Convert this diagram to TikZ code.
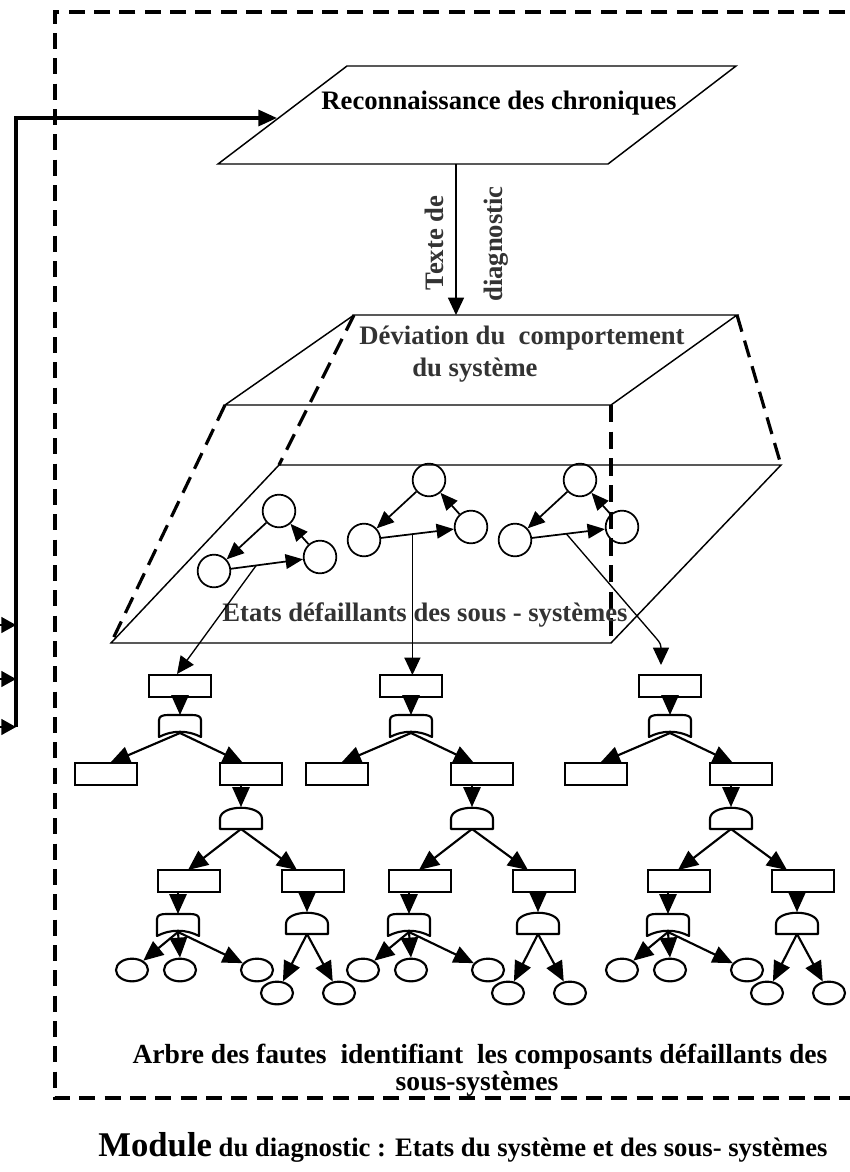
\documentclass[tikz,border=0pt]{standalone}
\usepackage{fontspec}
\setmainfont{Liberation Serif}
\usetikzlibrary{arrows.meta,calc,shapes.geometric}
\definecolor{tg}{HTML}{333333}

\newcommand\orgate[3]{%
  \node[gatebox] (#1) at (#2,#3) {};
  \coordinate (#1o) at (#2,#3+7);
  \draw[tline, line join=round] (#2-21,#3+11) -- (#2-21,#3-6)
    .. controls (#2-21,#3-10) and (#2-17,#3-11) .. (#2-12,#3-11)
    -- (#2+12,#3-11)
    .. controls (#2+17,#3-11) and (#2+21,#3-10) .. (#2+21,#3-6)
    -- (#2+21,#3+11)
    .. controls (#2+8,#3+4) and (#2-8,#3+4) .. (#2-21,#3+11) -- cycle;}

\newcommand\andgate[3]{%
  \node[gatebox] (#1) at (#2,#3) {};
  \draw[tline, line join=round] (#2-21,#3+11) -- (#2-21,#3+1)
    .. controls (#2-21,#3-14) and (#2+21,#3-14) .. (#2+21,#3+1)
    -- (#2+21,#3+11) -- cycle;}

\newcommand\faulttree[2]{%
  \node[box] (#1R0) at (#2+180,686) {};
  \orgate{#1G1}{#2+180}{726}
  \node[box] (#1L1) at (#2+106,774) {};
  \node[box] (#1R1) at (#2+251,774) {};
  \andgate{#1G2}{#2+241}{818}
  \node[box] (#1B1) at (#2+189,881) {};
  \node[box] (#1B2) at (#2+313,881) {};
  \orgate{#1G3}{#2+178}{925}
  \andgate{#1G4}{#2+307}{923}
  \node[leaf] (#1E1) at (#2+132,970) {};
  \node[leaf] (#1E2) at (#2+180,970) {};
  \node[leaf] (#1E3) at (#2+257,970) {};
  \node[leaf] (#1E4) at (#2+277,993) {};
  \node[leaf] (#1E5) at (#2+339,993) {};
  \draw[arr] (#1R0.south -| #1G1.north) -- (#1G1.north);
  \draw[arr] (#1G1o) -- ($(#1L1.north)+(4,0)$);
  \draw[arr] (#1G1o) -- ($(#1R1.north)+(-8,0)$);
  \draw[arr] (#1R1.south -| #1G2.north) -- (#1G2.north);
  \draw[arr] (#1G2.south) -- ($(#1B1.north)+(-1,0)$);
  \draw[arr] (#1G2.south) -- ($(#1B2.north)+(-16,0)$);
  \draw[arr] (#1B1.south -| #1G3.north) -- (#1G3.north);
  \draw[arr] (#1B2.south -| #1G4.north) -- (#1G4.north);
  \draw[arr] (#1G3o) -- (#1E1);
  \draw[arr] (#1G3o) -- (#1E2.north);
  \draw[arr] (#1G3o) -- (#1E3);
  \draw[arr] (#1G4.south) -- (#1E4);
  \draw[arr] (#1G4.south) -- (#1E5);}

\begin{document}
\begin{tikzpicture}[x=0.75pt,y=-0.75pt,
  frame/.style={line width=2.3pt, dash pattern=on 12pt off 7pt},
  pdash/.style={line width=2.4pt, dash pattern=on 13pt off 7pt},
  pline/.style={line width=1.1pt, line join=miter},
  tline/.style={line width=1.6pt},
  arr/.style={tline, -{Triangle[length=15pt,width=13pt]}},
  thinarr/.style={line width=1pt, -{Triangle[length=13pt,width=12pt]}},
  sarr/.style={line width=1.3pt, -{Triangle[length=13pt,width=11pt]}},
  bigarr/.style={line width=2.4pt, -{Triangle[length=14pt,width=12pt]}},
  inarr/.style={line width=1pt, -{Triangle[length=11pt,width=12pt]}},
  box/.style={draw, line width=1.6pt, minimum width=47pt, minimum height=16.5pt, inner sep=0pt, outer sep=0pt},
  gatebox/.style={minimum width=31.5pt, minimum height=16.5pt, inner sep=0pt, outer sep=0pt},
  leaf/.style={draw, ellipse, line width=1.6pt, minimum width=24pt, minimum height=17pt, inner sep=0pt},
  state/.style={draw, circle, line width=1.3pt, minimum size=24.5pt, inner sep=0pt},
  lbl/.style={font=\bfseries\fontsize{20}{22}\selectfont, text=tg, inner sep=0pt}]
\useasboundingbox (0,0) rectangle (850,1172);
\fill[white] (0,0) rectangle (850,1172);

% dashed frame
\coordinate (f1) at (55,1098);
\coordinate (f2) at (55,12);
\coordinate (f3) at (870,12);
\coordinate (f4) at (870,1098);
\draw[frame] (f3) -- (f2) -- (f1) -- (f4);

% left feedback line
\coordinate (ltop) at (16,118);
\coordinate (lbot) at (16,727);
\coordinate (pin) at (277,118);
\draw[bigarr] (lbot) -- (ltop) -- (pin);
\coordinate (i1) at (-12,625);
\coordinate (i2) at (-12,679);
\coordinate (i3) at (-12,727);
\draw[inarr] (i1) -- (i1 -| lbot);
\draw[inarr] (i2) -- (i2 -| lbot);
\draw[inarr] (i3) -- (i3 -| lbot);

% Reconnaissance parallelogram
\coordinate (pA) at (347,66);
\coordinate (pB) at (736,66);
\coordinate (pC) at (608,164);
\coordinate (pD) at (218,164);
\draw[pline] (pA) -- (pB) -- (pC) -- (pD) -- cycle;
\node[lbl, text=black, anchor=base] (reco) at (499,109) {Reconnaissance des chroniques};

% vertical arrow with labels
\coordinate (pout) at (456,164);
\coordinate (tin) at (456,315);
\draw[line width=1pt, -{Triangle[length=13pt,width=12pt]}] (pout) -- (tin);
\node[lbl, rotate=90] (tx1) at (434,243) {Texte de};
\node[lbl, rotate=90] (tx2) at (496,244) {diagnostic};

% prism
\coordinate (tA) at (354,315);
\coordinate (tB) at (737,315);
\coordinate (tC) at (611,405);
\coordinate (tD) at (225,405);
\coordinate (bA) at (279,465);
\coordinate (bB) at (781,465);
\coordinate (bC) at (611,643);
\coordinate (bD) at (111,643);
\draw[pline] (tA) -- (tB) -- (tC) -- (tD) -- cycle;
\draw[pline] (bA) -- (bB) -- (bC) -- (bD) -- cycle;
\draw[pdash] (tD) -- (bD);
\draw[pdash] (tA) -- (bA);
\draw[pdash] (tB) -- (bB);
\draw[pdash] (tC) -- (bC);

\node[lbl, anchor=base] (dev1) at (522,344) {Déviation du~ comportement};
\node[lbl, anchor=base] (dev2) at (475,376) {du système};
\node[lbl, anchor=base] (etat) at (425,621) {Etats défaillants des sous - systèmes};

% state graphs
\node[state] (g1A) at (279,511) {};
\node[state] (g1B) at (214,571) {};
\node[state] (g1C) at (320,557) {};
\node[state] (g2A) at (429,480) {};
\node[state] (g2B) at (364,540) {};
\node[state] (g2C) at (471,527) {};
\node[state] (g3A) at (580,480) {};
\node[state] (g3B) at (515,540) {};
\node[state] (g3C) at (622,527) {};
\draw[sarr] (g1A) -- (g1B);
\draw[sarr] (g1B) -- coordinate[pos=0.35] (g1m) (g1C);
\draw[sarr] (g1C) -- (g1A);
\draw[sarr] (g2A) -- (g2B);
\draw[sarr] (g2B) -- coordinate[pos=0.43] (g2m) (g2C);
\draw[sarr] (g2C) -- (g2A);
\draw[sarr] (g3A) -- (g3B);
\draw[sarr] (g3B) -- coordinate[pos=0.47] (g3m) (g3C);
\draw[sarr] (g3C) -- (g3A);

% fault trees
\faulttree{t1}{0}
\faulttree{t2}{231}
\faulttree{t3}{490}

% links from states to trees
\draw[thinarr] (g1m) -- ($(t1R0.north)+(-3,-1)$);
\draw[thinarr] (g2m) -- (g2m |- t2R0.north);
\coordinate (g3k) at (656,638);
\coordinate (g3t) at ($(t3R0.north)+(-9,-10)$);
\draw[thinarr] (g3m) -- (g3k) .. controls (661,644) .. (661,652) -- (g3t);

% captions
\node[lbl, text=black, anchor=base, font=\bfseries\fontsize{20.7}{22}\selectfont] (arb1) at (480,1063) {Arbre des fautes~ identifiant~ les composants défaillants des};
\node[lbl, text=black, anchor=base, font=\bfseries\fontsize{20.7}{22}\selectfont] (arb2) at (477,1090) {sous-systèmes};
\node[lbl, text=black, anchor=base] (mod) at (463,1156) {{\fontsize{26}{28}\selectfont Module} du diagnostic : Etats du système et des sous- systèmes};
\end{tikzpicture}
\end{document}
